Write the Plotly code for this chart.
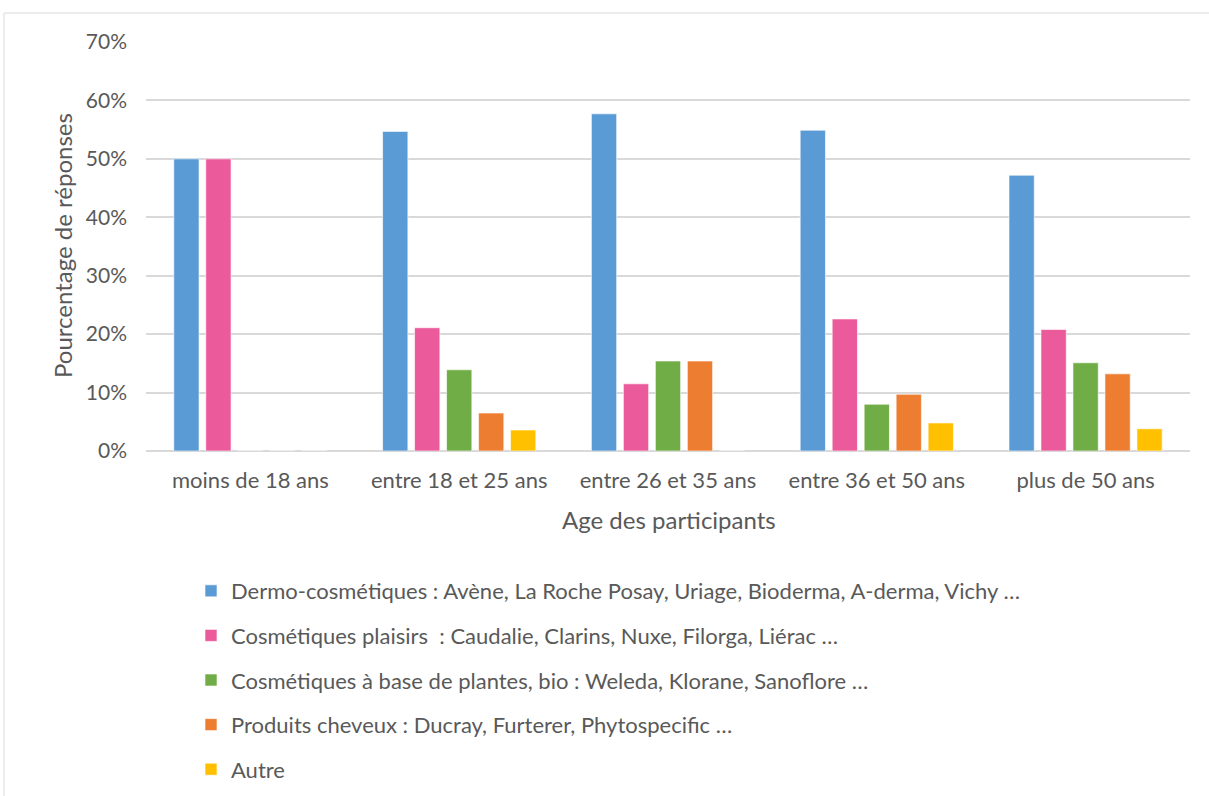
import plotly.graph_objects as go

# Age groups of the survey participants
categories = ["moins de 18 ans", "entre 18 et 25 ans", "entre 26 et 35 ans",
              "entre 36 et 50 ans", "plus de 50 ans"]

# Share of answers (%) per product family
series_names = [
    "Dermo-cosmétiques : Avène, La Roche Posay, Uriage, Bioderma, A-derma, Vichy …",
    "Cosmétiques plaisirs  : Caudalie, Clarins, Nuxe, Filorga, Liérac …",
    "Cosmétiques à base de plantes, bio : Weleda, Klorane, Sanoflore …",
    "Produits cheveux : Ducray, Furterer, Phytospecific …",
    "Autre",
]
dermo = [50.0, 54.7, 57.7, 54.9, 47.2]
plaisirs = [50.0, 21.1, 11.5, 22.6, 20.8]
plantes = [0.0, 13.9, 15.4, 8.0, 15.1]
cheveux = [0.0, 6.5, 15.4, 9.7, 13.2]
autre = [0.0, 3.6, 0.0, 4.8, 3.8]

series_values = [dermo, plaisirs, plantes, cheveux, autre]
colors = ["#5B9BD5", "#EB5A9B", "#70AD47", "#ED7D31", "#FFC000"]

W, H = 1209, 796
L, R, T, B = 146, 1190, 42, 451  # plot area in pixels
pw, ph = R - L, B - T

def px_x(x):
    return (x - L) / pw

def px_y(y):
    return (B - y) / ph

FONT = "Lato, 'Open Sans', sans-serif"
TXT = "#595959"

fig = go.Figure()
for i, (name, vals, col) in enumerate(zip(series_names, series_values, colors)):
    fig.add_trace(go.Bar(
        x=categories,
        y=[v / 100 for v in vals],
        name=name,
        marker=dict(color=col, line=dict(color="rgba(255,255,255,0.6)", width=1)),
        legendgroup=f"g{i}",
    ))

fig.update_layout(
    width=W, height=H,
    margin=dict(l=L, r=W - R, t=T, b=H - B, autoexpand=False),
    paper_bgcolor="white",
    plot_bgcolor="white",
    barmode="group",
    bargap=0.234,
    bargroupgap=0.21,
    font=dict(family=FONT, color=TXT, size=22),
    showlegend=True,
    legend=dict(
        orientation="v",
        x=px_x(191), xanchor="left",
        y=px_y(570), yanchor="top",
        font=dict(family=FONT, size=22, color=TXT),
        tracegroupgap=13,
        itemwidth=30,
        bgcolor="rgba(0,0,0,0)",
    ),
    xaxis=dict(
        showgrid=False,
        showline=False,
        ticks="",
        ticklabelstandoff=14,
        tickfont=dict(family=FONT, size=22, color=TXT),
        fixedrange=True,
    ),
    yaxis=dict(
        range=[0, 0.7],
        dtick=0.1,
        tickformat=".0%",
        showgrid=True,
        gridcolor="#D9D9D9",
        gridwidth=1.5,
        zeroline=True,
        zerolinecolor="#D9D9D9",
        zerolinewidth=1.5,
        ticks="",
        ticklabelstandoff=18,
        tickfont=dict(family=FONT, size=21, color=TXT),
        fixedrange=True,
    ),
)

# Axis titles
fig.add_annotation(
    text="Age des participants", xref="paper", yref="paper",
    x=px_x(669), y=px_y(519), xanchor="center", yanchor="middle",
    showarrow=False, font=dict(family=FONT, size=24, color=TXT),
)
fig.add_annotation(
    text="Pourcentage de réponses", xref="paper", yref="paper",
    x=px_x(62), y=px_y(246), xanchor="center", yanchor="middle",
    textangle=-90, showarrow=False, font=dict(family=FONT, size=24, color=TXT),
)

# Chart frame
fig.add_shape(
    type="rect", xref="paper", yref="paper",
    x0=px_x(4), x1=px_x(1215), y0=px_y(13), y1=px_y(805),
    line=dict(color="#D9D9D9", width=1), fillcolor="rgba(0,0,0,0)", layer="below",
)

fig.write_html("out.html")
